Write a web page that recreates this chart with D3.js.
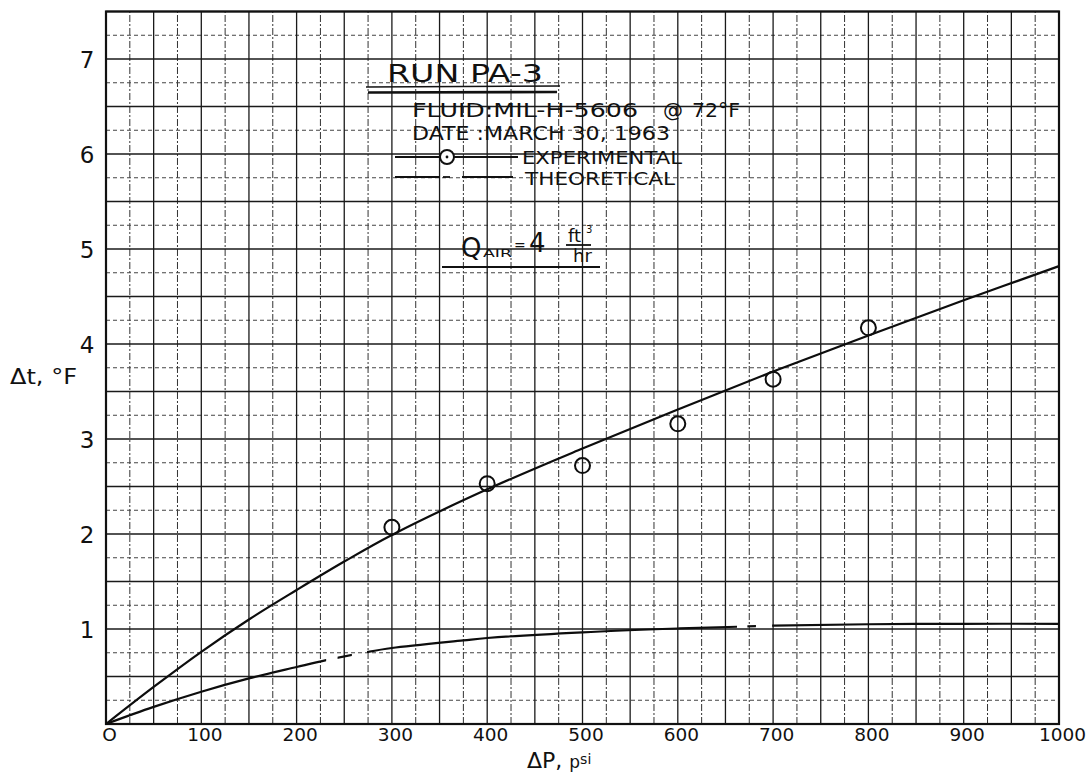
<!DOCTYPE html>
<html>
<head>
<meta charset="utf-8">
<script src="https://cdn.jsdelivr.net/npm/d3@7/dist/d3.min.js"></script>
<style>
  html, body { margin: 0; padding: 0; background: #fff; }
  svg { display: block; }
  text { font-family: "DejaVu Sans", "Liberation Sans", sans-serif; fill: #111; }
</style>
</head>
<body>
<svg id="chart" width="1092" height="775"></svg>
<script>
// Axis ticks
const pressureTicks = [0, 100, 200, 300, 400, 500, 600, 700, 800, 900, 1000];
const tempTicks = [1, 2, 3, 4, 5, 6, 7];

// Experimental points (ΔP in psi, Δt in °F)
const expPressure = [300, 400, 500, 600, 700, 800];
const expDeltaT = [2.07, 2.53, 2.72, 3.16, 3.63, 4.17];

// Curve faired through the experimental points
const fitPressure = [0, 50, 100, 150, 200, 250, 300, 400, 500, 600, 700, 800, 900, 1000];
const fitDeltaT = [0, 0.39, 0.76, 1.10, 1.41, 1.71, 1.99, 2.47, 2.90, 3.31, 3.71, 4.09, 4.46, 4.82];

// Theoretical curve
const theoryPressure = [0, 50, 100, 150, 200, 230, 275, 300, 375, 400, 500, 600, 700, 800, 900, 1000];
const theoryDeltaT = [0, 0.18, 0.34, 0.48, 0.60, 0.67, 0.76, 0.80, 0.88, 0.905, 0.965, 1.005, 1.035, 1.05, 1.055, 1.055];
// Pressure spans where the long-short-long theoretical line is inked
const theorySpans = [[0, 231], [243, 258], [274, 662], [673, 682], [699, 1000]];

const svg = d3.select("#chart");
const x = d3.scaleLinear().domain([0, 1000]).range([106, 1059]);
const y = d3.scaleLinear().domain([0, 7.5]).range([724, 11.5]);

// ---- graph-paper grid ----
const grid = svg.append("g");
const xMajor = d3.range(0, 1001, 50), xMinor = d3.range(25, 1000, 50);
const yMajor = d3.range(0, 7.51, 0.5), yMinor = d3.range(0.25, 7.5, 0.5);
grid.selectAll(".vmin").data(xMinor).join("line")
  .attr("x1", d => x(d)).attr("x2", d => x(d)).attr("y1", y(0)).attr("y2", y(7.5))
  .attr("stroke", "#333").attr("stroke-width", 1).attr("stroke-dasharray", "7,2,2,2");
grid.selectAll(".hmin").data(yMinor).join("line")
  .attr("y1", d => y(d)).attr("y2", d => y(d)).attr("x1", x(0)).attr("x2", x(1000))
  .attr("stroke", "#444").attr("stroke-width", 1).attr("stroke-dasharray", "4,3");
grid.selectAll(".vmaj").data(xMajor).join("line")
  .attr("x1", d => x(d)).attr("x2", d => x(d)).attr("y1", y(0)).attr("y2", y(7.5))
  .attr("stroke", "#1a1a1a").attr("stroke-width", 1.3);
grid.selectAll(".hmaj").data(yMajor).join("line")
  .attr("y1", d => y(d)).attr("y2", d => y(d)).attr("x1", x(0)).attr("x2", x(1000))
  .attr("stroke", "#1a1a1a").attr("stroke-width", 1.3);

// frame
svg.append("rect").attr("x", x(0)).attr("y", y(7.5))
  .attr("width", x(1000) - x(0)).attr("height", y(0) - y(7.5))
  .attr("fill", "none").attr("stroke", "#111").attr("stroke-width", 2.2);

// ---- axes ----
const xAxis = d3.axisBottom(x).tickValues(pressureTicks).tickSize(0).tickPadding(0)
  .tickFormat(d => d === 0 ? "O" : String(d));
const gx = svg.append("g").attr("transform", `translate(3,${y(0)})`).call(xAxis);
gx.select(".domain").remove();
gx.selectAll("text").attr("y", 17).attr("dy", 0)
  .style("font-size", "18.5px").style("font-family", "DejaVu Sans, sans-serif").attr("fill", "#111");

const yAxis = d3.axisLeft(y).tickValues(tempTicks).tickSize(0).tickPadding(0);
const gy = svg.append("g").attr("transform", `translate(${x(0)},0)`).call(yAxis);
gy.select(".domain").remove();
gy.selectAll("text").attr("x", -19).attr("dy", "0.36em").attr("text-anchor", "middle")
  .style("font-size", "23px").style("font-family", "DejaVu Sans, sans-serif").attr("fill", "#111");

// axis titles
svg.append("text").attr("x", 10).attr("y", 384).attr("textLength", 67)
  .attr("lengthAdjust", "spacingAndGlyphs").style("font-size", "21px").text("Δt, °F");
const xt = svg.append("text").attr("x", 527).attr("y", 768).style("font-size", "22px");
xt.append("tspan").text("ΔP, ");
xt.append("tspan").style("font-size", "17px").text("p");
xt.append("tspan").style("font-size", "14px").attr("dy", -4).text("si");

// ---- curves ----
const line = d3.line().x(d => x(d[0])).y(d => y(d[1])).curve(d3.curveCatmullRom.alpha(0.5));
const fitData = fitPressure.map((p, i) => [p, fitDeltaT[i]]);
const theoryData = theoryPressure.map((p, i) => [p, theoryDeltaT[i]]);

svg.append("path").datum(fitData).attr("d", line)
  .attr("fill", "none").attr("stroke", "#0d0d0d").attr("stroke-width", 2.2);

const defs = svg.append("defs");
theorySpans.forEach((s, i) => {
  defs.append("clipPath").attr("id", "span" + i).append("rect")
    .attr("x", x(s[0]) - (s[0] === 0 ? 4 : 0)).attr("y", 0)
    .attr("width", x(s[1]) - x(s[0]) + (s[0] === 0 ? 4 : 0)).attr("height", 775);
  svg.append("path").datum(theoryData).attr("d", line)
    .attr("clip-path", `url(#span${i})`)
    .attr("fill", "none").attr("stroke", "#0d0d0d").attr("stroke-width", 2.2);
});

// experimental points
svg.selectAll(".pt").data(expPressure).join("circle")
  .attr("cx", d => x(d)).attr("cy", (d, i) => y(expDeltaT[i])).attr("r", 7.5)
  .attr("fill", "none").attr("stroke", "#0d0d0d").attr("stroke-width", 2);

// ---- title block ----
const note = svg.append("g");
note.append("text").attr("x", 387).attr("y", 82).attr("textLength", 156)
  .attr("lengthAdjust", "spacingAndGlyphs").style("font-size", "24px").text("RUN PA-3");
note.append("line").attr("x1", 366).attr("x2", 560).attr("y1", 87).attr("y2", 86)
  .attr("stroke", "#111").attr("stroke-width", 1.6);
note.append("line").attr("x1", 368).attr("x2", 557).attr("y1", 92.5).attr("y2", 92)
  .attr("stroke", "#111").attr("stroke-width", 2.6);

note.append("text").attr("x", 412).attr("y", 117).attr("textLength", 226)
  .attr("lengthAdjust", "spacingAndGlyphs").style("font-size", "20px").text("FLUID:MIL-H-5606");
note.append("text").attr("x", 663).attr("y", 117).style("font-size", "20px").text("@");
note.append("text").attr("x", 692).attr("y", 117).attr("textLength", 48)
  .attr("lengthAdjust", "spacingAndGlyphs").style("font-size", "20px").text("72°F");
note.append("text").attr("x", 412).attr("y", 140).attr("textLength", 258)
  .attr("lengthAdjust", "spacingAndGlyphs").style("font-size", "20px").text("DATE :MARCH 30, 1963");

// legend: experimental
note.append("line").attr("x1", 395).attr("x2", 518).attr("y1", 157).attr("y2", 157)
  .attr("stroke", "#111").attr("stroke-width", 1.8);
note.append("circle").attr("cx", 447).attr("cy", 157).attr("r", 7)
  .attr("fill", "#fff").attr("stroke", "#111").attr("stroke-width", 2);
note.append("circle").attr("cx", 447).attr("cy", 157).attr("r", 1.4).attr("fill", "#111");
note.append("text").attr("x", 522).attr("y", 164).attr("textLength", 160)
  .attr("lengthAdjust", "spacingAndGlyphs").style("font-size", "18px").text("EXPERIMENTAL");

// legend: theoretical
[[395, 440], [443, 450], [462, 513]].forEach(s => {
  note.append("line").attr("x1", s[0]).attr("x2", s[1]).attr("y1", 177).attr("y2", 177)
    .attr("stroke", "#111").attr("stroke-width", 1.8);
});
note.append("text").attr("x", 525).attr("y", 185).attr("textLength", 150)
  .attr("lengthAdjust", "spacingAndGlyphs").style("font-size", "18px").text("THEORETICAL");

// air flow rate
note.append("text").attr("x", 461).attr("y", 257).style("font-size", "26px").text("Q");
note.append("text").attr("x", 483).attr("y", 257).attr("textLength", 29)
  .attr("lengthAdjust", "spacingAndGlyphs").style("font-size", "11px").text("AIR");
note.append("text").attr("x", 514).attr("y", 250).style("font-size", "14px").text("=");
note.append("text").attr("x", 529).attr("y", 252).style("font-size", "26px").text("4");
note.append("text").attr("x", 568).attr("y", 242).style("font-size", "18px").text("ft");
note.append("text").attr("x", 586).attr("y", 233).style("font-size", "10px").text("3");
note.append("line").attr("x1", 566).attr("x2", 591).attr("y1", 245).attr("y2", 245)
  .attr("stroke", "#111").attr("stroke-width", 1.8);
note.append("text").attr("x", 573).attr("y", 262).style("font-size", "18px").text("hr");
note.append("line").attr("x1", 442).attr("x2", 600).attr("y1", 267).attr("y2", 267)
  .attr("stroke", "#111").attr("stroke-width", 2);
</script>
</body>
</html>
